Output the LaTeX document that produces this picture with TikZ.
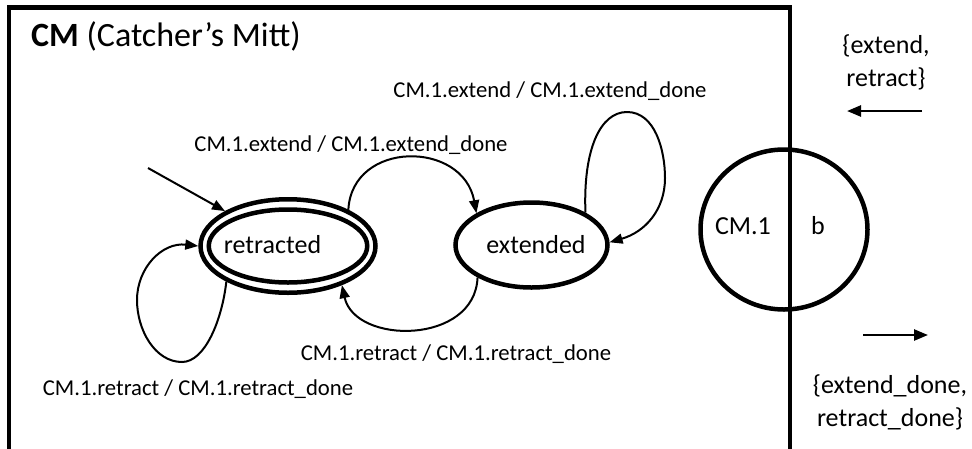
\documentclass[tikz,border=0pt]{standalone}
\usepackage{fontspec}
\setmainfont{Carlito}
\usetikzlibrary{arrows.meta,shapes.geometric}
\begin{document}
\begin{tikzpicture}[x=1pt,y=-1pt,
  ring/.style={ellipse, draw, line width=4.5pt, inner sep=0pt},
  statetxt/.style={font=\fontsize{26}{30}\selectfont, inner sep=0pt, anchor=base},
  lbl/.style={font=\fontsize{22.7}{27}\selectfont, inner sep=0pt, anchor=base},
  side/.style={font=\fontsize{26}{33}\selectfont, align=center, inner sep=0pt},
  tr/.style={line width=2pt, -{Triangle[length=13pt,width=10pt]}},
  port/.style={line width=2.5pt, -{Triangle[length=14pt,width=11pt]}},
]
\clip (0,0) rectangle (972,448);
\fill[white] (0,0) rectangle (972,448);

% component frame (runs off the bottom edge)
\draw[line width=4.5pt] (9,7.5) rectangle (790,480);
\node[font=\fontsize{34}{38}\selectfont, inner sep=0pt, anchor=base west] (title) at (31,46) {\textbf{CM} (Catcher’s Mitt)};

% states
\node[ring, minimum width=175pt, minimum height=93.5pt] (ret) at (288,246) {};
\node[ring, minimum width=158.5pt, minimum height=73pt] (reti) at (288,246) {};
\node[statetxt] (rettxt) at (272.5,253) {retracted};
\node[ring, minimum width=152pt, minimum height=85pt] (ext) at (531.5,245) {};
\node[statetxt] (exttxt) at (536,253) {extended};

% port on the frame boundary
\node[ring, minimum width=167pt, minimum height=160pt] (port) at (784,229.5) {};
\node[statetxt] (portname) at (743,234) {CM.1};
\node[statetxt] (portb) at (818,234) {b};

% initial transition
\coordinate (init) at (148,168);
\draw[tr] (init) -- (ret.151.6);

% transitions
\draw[tr] (ret.31) .. controls (352,140) and (463,140) .. (ext.150.5);
\draw[tr] (ext.211) .. controls (475,345) and (355,345) .. (ret.324);
\draw[tr] (ret.210) .. controls (222,320) and (205,362) .. (182,362)
  .. controls (155,362) and (137,330) .. (137,300)
  .. controls (137,268) and (162,242) .. (ret.180);
\draw[tr] (ext.31.7) .. controls (583,150) and (600,112) .. (627,112)
  .. controls (655,112) and (665,150) .. (665,178)
  .. controls (665,210) and (645,232) .. (ext.2);

% transition labels
\node[lbl] (l1) at (550,97) {CM.1.extend / CM.1.extend\_done};
\node[lbl] (l2) at (351,151) {CM.1.extend / CM.1.extend\_done};
\node[lbl] (l3) at (456,360) {CM.1.retract / CM.1.retract\_done};
\node[lbl] (l4) at (198,395) {CM.1.retract / CM.1.retract\_done};

% messages at the port
\node[side] (inmsg) at (886,62) {\{extend,\\retract\}};
\coordinate (inA) at (922,111);
\coordinate (inB) at (847,111);
\draw[port] (inA) -- (inB);
\coordinate (outA) at (863,335);
\coordinate (outB) at (928,335);
\draw[port] (outA) -- (outB);
\node[side] (outmsg) at (890,402) {\{extend\_done,\\retract\_done\}};
\end{tikzpicture}
\end{document}
